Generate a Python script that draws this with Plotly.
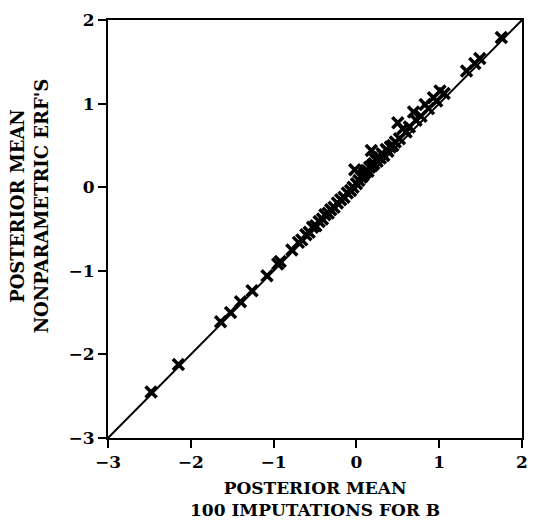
import plotly.graph_objects as go

imputation_mean = [
    -2.48, -2.15, -1.64, -1.52, -1.40, -1.26, -1.08, -0.95, -0.92, -0.78,
    -0.70, -0.66, -0.61, -0.57, -0.53, -0.49, -0.45, -0.41, -0.38, -0.34,
    -0.31, -0.27, -0.23, -0.19, -0.15, -0.11, -0.07, -0.04, -0.02,
    0.00, 0.03, 0.06, 0.08, 0.10, 0.12, 0.14, 0.16, 0.18, 0.19,
    0.21, 0.23, 0.25, 0.27, 0.29, 0.31, 0.33, 0.36, 0.38, 0.41,
    0.44, 0.47, 0.50, 0.52, 0.56, 0.60, 0.64, 0.69, 0.72, 0.78,
    0.83, 0.87, 0.93, 0.97, 1.01, 1.06, 1.33, 1.43, 1.49, 1.75,
]
nonparametric_mean = [
    -2.45, -2.12, -1.61, -1.50, -1.37, -1.24, -1.06, -0.92, -0.89, -0.75,
    -0.66, -0.63, -0.57, -0.54, -0.48, -0.46, -0.41, -0.38, -0.33, -0.31,
    -0.27, -0.24, -0.19, -0.15, -0.12, -0.07, -0.04, 0.00, 0.21,
    0.04, 0.08, 0.12, 0.14, 0.17, 0.20, 0.19, 0.24, 0.44, 0.26,
    0.28, 0.33, 0.31, 0.36, 0.35, 0.40, 0.38, 0.45, 0.43, 0.48,
    0.50, 0.54, 0.77, 0.58, 0.70, 0.66, 0.72, 0.90, 0.80, 0.85,
    0.99, 0.94, 1.07, 1.03, 1.15, 1.12, 1.39, 1.48, 1.54, 1.79,
]
diag = [-3, 2]
tick_vals = [-3, -2, -1, 0, 1, 2]
tick_text = ["−3", "−2", "−1", "0", "1", "2"]
x_title = "POSTERIOR MEAN<br>100 IMPUTATIONS FOR B"
y_title = "POSTERIOR MEAN<br>NONPARAMETRIC ERF'S"

font = "DejaVu Serif"

fig = go.Figure()
fig.add_trace(go.Scatter(x=diag, y=diag, mode="lines",
                         line=dict(color="black", width=2), hoverinfo="skip"))
fig.add_trace(go.Scatter(x=imputation_mean, y=nonparametric_mean, mode="markers",
                         marker=dict(symbol="x-thin", size=11, color="black",
                                     line=dict(color="black", width=3.5))))

axis_common = dict(range=[-3, 2], tickvals=tick_vals, ticktext=tick_text,
                   ticks="outside", ticklen=8, tickwidth=2, tickcolor="black",
                   showgrid=False, zeroline=False, showline=True, linecolor="black",
                   linewidth=2, mirror=True,
                   tickfont=dict(family=font, size=17, color="black", weight="bold"))

fig.update_layout(
    width=538, height=522, showlegend=False,
    paper_bgcolor="white", plot_bgcolor="white",
    margin=dict(l=108, r=10, t=17, b=84),
    xaxis=axis_common,
    yaxis=axis_common,
    annotations=[
        dict(text=x_title, xref="paper", yref="paper", x=0.5, y=-0.145,
             xanchor="center", yanchor="middle", showarrow=False,
             font=dict(family=font, size=17, color="black", weight="bold")),
        dict(text=y_title, xref="paper", yref="paper", x=-0.19, y=0.555,
             xanchor="center", yanchor="middle", showarrow=False, textangle=-90,
             font=dict(family=font, size=18, color="black", weight="bold")),
    ],
)
fig.write_html("out.html")
